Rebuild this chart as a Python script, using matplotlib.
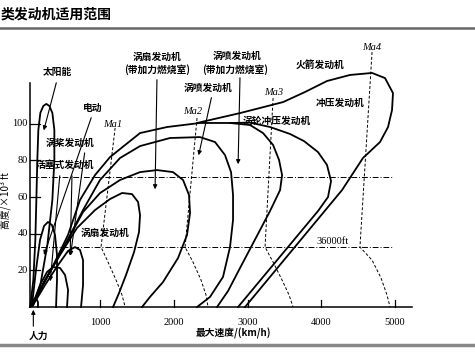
import matplotlib.pyplot as plt

plt.rcParams['font.family'] = ['Noto Sans CJK SC', 'DejaVu Sans']

# speed in km/h, altitude in 1000 ft
solar_v = [54, 95, 122, 136, 149, 163, 190, 231, 271, 312, 353, 380, 380, 353, 285, 190, 95]
solar_h = [0.5, 14.7, 36.6, 58.4, 80.2, 96.6, 105.9, 109.7, 110.8, 109.7, 105.9, 96.6, 80.2, 58.4, 33.8, 12, 1.1]

small1_v = [77, 131, 186, 240, 294, 348, 389, 416, 416, 403]
small1_h = [1.1, 20.2, 36.6, 44.2, 46.4, 44.7, 39.3, 28.4, 14.7, 0]
small2_v = [91, 254, 430, 566, 660, 728, 769, 769, 742]
small2_h = [1.1, 12, 22.9, 30.6, 32.7, 31.1, 25.6, 12, 0]
small3_v = [77, 186, 281, 362, 457, 525, 566, 552]
small3_h = [0.5, 12, 19.1, 21.8, 21.3, 17.5, 9.3, 0]
human_v = [50, 91, 131, 158, 158]
human_h = [0, 3.8, 4.9, 2.7, 0]

turbofan_v = [77, 254, 457, 687, 932, 1135, 1298, 1433, 1515, 1542, 1528, 1461, 1352, 1257, 1176]
turbofan_h = [1.1, 14.7, 28.4, 43.1, 52.9, 58.9, 62.2, 61.6, 57.3, 50.2, 40.9, 30, 17.5, 7.6, 0]

turbofan_ab_v = [77, 295, 525, 769, 1000, 1271, 1542, 1772, 1989, 2125, 2206, 2220, 2179, 2057, 1853, 1677, 1569]
turbofan_ab_h = [1.1, 17.5, 33.8, 51.8, 62.2, 69.3, 73.6, 74.7, 73.6, 69.3, 61.1, 51.3, 39.3, 26.7, 13.6, 5.5, 0]

turbojet_v = [77, 321, 538, 769, 999, 1271, 1542, 1948, 2355, 2559, 2694, 2776, 2803, 2803, 2762, 2667, 2491, 2315]
turbojet_h = [1.1, 19.1, 34.9, 52.9, 69.3, 81.3, 87.8, 92.2, 92.7, 90, 82.9, 73.6, 61.1, 47.5, 32.7, 16.4, 5.5, 0]

turbojet_ab_v = [77, 348, 565, 728, 932, 1135, 1542, 1908, 2355, 2762, 3033, 3210, 3346, 3427, 3468, 3441, 3305, 3169, 3033, 2898, 2735, 2586]
turbojet_ab_h = [1.1, 21.3, 39.3, 58.4, 72, 81.8, 94.9, 98.2, 100.4, 100.4, 99.3, 94.9, 88.4, 80.2, 72, 63.8, 52.4, 42, 31.6, 21.3, 8.7, 0]

turboram_v = [2762, 3033, 3305, 3576, 3766, 3956, 4077, 4132, 4091, 3956, 2871]
turboram_h = [100.4, 100.6, 98.2, 94.4, 90.5, 84.5, 77.5, 68.7, 60, 52.4, 0]

ramjet_v = [2315, 2898, 3481, 3779, 4077, 4389, 4688, 4864, 4972, 4959, 4905, 4796, 4565, 4281, 2966]
ramjet_h = [100.4, 105.8, 111.8, 117.3, 123.3, 126.6, 127.7, 124.9, 116.7, 107.5, 98.2, 90, 81.3, 63.8, 0]

# Mach lines
mach_names = ['Ma1', 'Ma2', 'Ma3', 'Ma4']
mach_v = [[1204, 1013, 1108, 1217, 1298, 1340],
          [2315, 2152, 2260, 2369, 2437, 2464],
          [3346, 3237, 3346, 3468, 3563, 3617],
          [4688, 4524, 4688, 4810, 4891, 4932]]
mach_h = [[97.7, 32.7, 24.5, 14.7, 6.5, 0],
          [103.1, 32.7, 24.5, 14.7, 6.5, 0],
          [114, 32.7, 24.5, 14.7, 6.5, 0],
          [139.1, 32.7, 25.6, 15.8, 6.5, 0]]
mach_label_v = [1176, 2260, 3359, 4688]
mach_label_h = [99.8, 106.4, 117.3, 141.8]

alt_lines = [70.9, 32.7]
alt_end = 4972

xticks = [1000, 2000, 3000, 4000, 5000]
yticks = [20, 40, 60, 80, 100]

labels = [
    ('太阳能', 416, 128.2),
    ('电动', 905, 108.6),
    ('涡桨发动机', 593, 89.5),
    ('活塞式发动机', 525, 77.5),
    ('涡扇发动机', 1067, 40.4),
    ('涡扇发动机', 1772, 136.4),
    ('(带加力燃烧室)', 1772, 129.3),
    ('涡喷发动机', 2464, 119.5),
    ('涡喷发动机', 2857, 136.9),
    ('(带加力燃烧室)', 2830, 129.8),
    ('火箭发动机', 3982, 132),
    ('冲压发动机', 4254, 111.3),
    ('涡轮冲压发动机', 3400, 101.5),
]

# leaders: (from v, from h, to v, to h)
arrows = [
    (416, 123.8, 227, 94.9),
    (1772, 125.5, 1745, 62.7),
    (2898, 126.6, 2871, 76.4),
    (2518, 115.7, 2328, 81.3),
    (796, 85.6, 593, 26.5),
    (457, 73.1, 321, 12.5),
    (620, 73.1, 593, 26.5),
    (892, 104.7, 227, 27),
]

fig = plt.figure(figsize=(4.75, 3.53), dpi=100)
ax = fig.add_axes([0, 0, 1, 1])
ax.set_xlim(-357, 6084)
ax.set_ylim(-25.1, 167.5)
ax.axis('off')

lw = 1.3
for v, h in [(solar_v, solar_h), (small1_v, small1_h), (small2_v, small2_h),
             (small3_v, small3_h), (human_v, human_h), (turbofan_v, turbofan_h),
             (turbofan_ab_v, turbofan_ab_h), (turbojet_v, turbojet_h),
             (turbojet_ab_v, turbojet_ab_h), (turboram_v, turboram_h),
             (ramjet_v, ramjet_h)]:
    ax.plot(v, h, color='black', lw=lw, solid_joinstyle='round')

for v, h in zip(mach_v, mach_h):
    ax.plot(v, h, color='black', lw=0.7, ls=(0, (3, 2)))
for name, v, h in zip(mach_names, mach_label_v, mach_label_h):
    ax.text(v, h, name, family='Liberation Serif', style='italic', fontsize=7.5,
            ha='center', va='center')

for a in alt_lines:
    ax.plot([50, alt_end], [a, a], color='black', lw=0.7, ls=(0, (6, 2, 1, 2)))
ax.text(4159, 36, '36000ft', family='Liberation Serif', fontsize=7.5, ha='center', va='center')

# axes
ax.plot([50, 5230], [0, 0], color='black', lw=1.1)
ax.plot([50, 50], [0, 122], color='black', lw=1.1)
for t in xticks:
    ax.plot([t, t], [0, 4], color='black', lw=0.9)
    ax.text(t, -8.2, str(t), family='Liberation Serif', fontsize=7.5, ha='center', va='center')
for t in yticks:
    ax.plot([50, 190], [t, t], color='black', lw=0.9)
    ax.text(20, t, str(t), family='Liberation Serif', fontsize=7.5, ha='right', va='center')

for txt, v, h in labels:
    ax.text(v, h, txt, fontsize=7, fontweight='bold', ha='center', va='center')

for v0, h0, v1, h1 in arrows:
    ax.annotate('', xy=(v1, h1), xytext=(v0, h0),
                arrowprops=dict(arrowstyle='-|>', color='black', lw=0.8, mutation_scale=6))

ax.annotate('', xy=(95, 0), xytext=(95, -12),
            arrowprops=dict(arrowstyle='-|>', color='black', lw=0.8, mutation_scale=6))
ax.text(159, -15.5, '人力', fontsize=7, fontweight='bold', ha='center', va='center')
ax.text(2803, -14.5, '最大速度/(km/h)', fontsize=7, fontweight='bold', ha='center', va='center')
ax.text(-280, 58, '高度/×10³ ft', fontsize=7, ha='center', va='center', rotation=90)

# page header and rules
fig.text(0.002, 1 - 15 / 353, '类发动机适用范围', fontsize=10, fontweight='bold', ha='left', va='center')
fig.add_artist(plt.Line2D([0, 1], [1 - 28 / 353, 1 - 28 / 353], color='#666666', lw=1.8))
fig.add_artist(plt.Line2D([0, 1], [1 - 345 / 353, 1 - 345 / 353], color='#888888', lw=2.5))

fig.savefig('out.png', dpi=100)
